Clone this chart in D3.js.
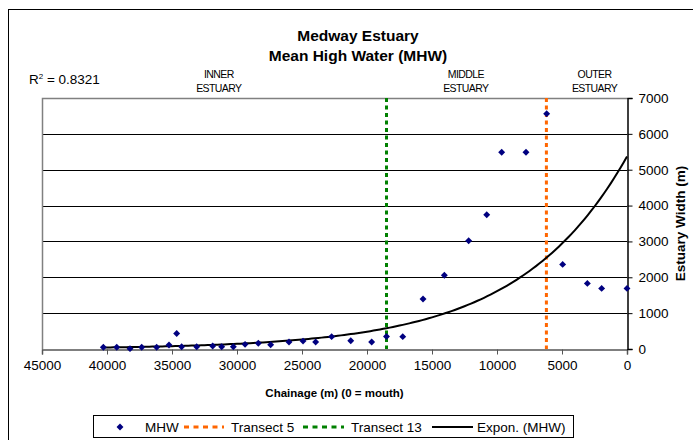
<!DOCTYPE html>
<html>
<head>
<meta charset="utf-8">
<script src="https://cdn.jsdelivr.net/npm/d3@7"></script>
<style>
  body { margin: 0; background: #fff; }
  svg { display: block; font-family: "Liberation Sans", Arial, sans-serif; }
</style>
</head>
<body>
<svg id="chart" width="693" height="440"></svg>
<script>
// Mean High Water width along the Medway, chainage measured from the mouth (m)
const chainage = [40280, 39250, 38230, 37330, 36180, 35230, 34640, 34260, 33100, 31870,
                  31180, 30280, 29380, 28360, 27410, 26000, 24920, 23950, 22720, 21250,
                  19640, 18500, 17250, 15690, 14050, 12180, 10790, 9640, 7770, 6180,
                  4950, 3050, 1950, 0];
const mhw = [50, 50, 10, 50, 50, 110, 430, 65, 65, 85,
             65, 65, 130, 160, 120, 195, 220, 195, 345, 230,
             195, 350, 345, 1395, 2055, 3020, 3745, 5485, 5485, 6560,
             2360, 1830, 1690, 1690];

// Transect positions (chainage, m)
const transectNames = ["Transect 5", "Transect 13"];
const transectChainage = [6200, 18500];

// Exponential trendline of MHW: width = A * exp(B * chainage)
const trendA = 5370;
const trendB = -1.204e-4;
const rSquared = "0.8321";

const xTicks = [45000, 40000, 35000, 30000, 25000, 20000, 15000, 10000, 5000, 0];
const yTicks = [0, 1000, 2000, 3000, 4000, 5000, 6000, 7000];
const zoneNames = [["INNER", "ESTUARY"], ["MIDDLE", "ESTUARY"], ["OUTER", "ESTUARY"]];

const svg = d3.select("#chart");
const plot = { left: 42, right: 627, top: 98, bottom: 349 };

const x = d3.scaleLinear().domain([45000, 0]).range([plot.left, plot.right]);
const y = d3.scaleLinear().domain([0, 7000]).range([plot.bottom, plot.top]);

// chart frame (runs past the page edge)
svg.append("rect")
  .attr("x", 8.5).attr("y", 9.5).attr("width", 760).attr("height", 480)
  .attr("fill", "none").attr("stroke", "#000").attr("stroke-width", 1);

// titles
const title = svg.append("g").attr("font-weight", "bold").attr("font-size", 15.5)
  .attr("text-anchor", "middle").attr("fill", "#000");
title.append("text").attr("x", 358).attr("y", 41).text("Medway Estuary");
title.append("text").attr("x", 358).attr("y", 61).text("Mean High Water (MHW)");

// R² label
const r2 = svg.append("text").attr("x", 29).attr("y", 84).attr("font-size", 13.5).attr("fill", "#000");
r2.append("tspan").text("R");
r2.append("tspan").attr("dy", -5).attr("font-size", 8).text("2");
r2.append("tspan").attr("dy", 5).text(" = " + rSquared);

// estuary zone labels
const zoneAt = [31400, 12400, 2500];
zoneNames.forEach((lines, i) => {
  const t = svg.append("text").attr("font-size", 10.5).attr("letter-spacing", -0.6)
    .attr("text-anchor", "middle").attr("fill", "#000");
  lines.forEach((ln, j) => {
    t.append("tspan").attr("x", x(zoneAt[i])).attr("y", 78 + j * 14).text(ln);
  });
});

// gridlines
svg.append("g").selectAll("line")
  .data(yTicks.filter(v => v > 0 && v < 7000))
  .join("line")
  .attr("x1", plot.left).attr("x2", plot.right)
  .attr("y1", d => Math.round(y(d)) + 0.5).attr("y2", d => Math.round(y(d)) + 0.5)
  .attr("stroke", "#000").attr("stroke-width", 1);

// plot border (left and top)
svg.append("path")
  .attr("d", `M${plot.left + 0.5},${plot.bottom}V${plot.top + 0.5}H${plot.right}`)
  .attr("fill", "none").attr("stroke", "#808080").attr("stroke-width", 1.5);

// transect markers
const transectColor = ["#FF6600", "#008000"];
svg.append("g").selectAll("line")
  .data(transectChainage)
  .join("line")
  .attr("x1", d => x(d)).attr("x2", d => x(d))
  .attr("y1", plot.top).attr("y2", plot.bottom)
  .attr("stroke", (d, i) => transectColor[i])
  .attr("stroke-width", 3)
  .attr("stroke-dasharray", "4,3.5");

// x axis (bottom)
const xAxis = d3.axisBottom(x).tickValues(xTicks).tickSize(5).tickPadding(6)
  .tickFormat(d3.format("d"));
const gx = svg.append("g").attr("transform", `translate(0,${plot.bottom + 0.5})`).call(xAxis);
gx.select(".domain").attr("stroke", "#555").attr("stroke-width", 1.5);
gx.selectAll(".tick line").attr("stroke", "#555");
gx.selectAll("text").attr("font-size", 13.5).attr("fill", "#000")
  .attr("font-family", "\"Liberation Sans\", Arial, sans-serif");

// y axis (right)
const yAxis = d3.axisRight(y).tickValues(yTicks).tickSize(5).tickPadding(6)
  .tickFormat(d3.format("d"));
const gy = svg.append("g").attr("transform", `translate(${plot.right + 0.5},0)`).call(yAxis);
gy.select(".domain").attr("stroke", "#000").attr("stroke-width", 1.5);
gy.selectAll(".tick line").attr("stroke", "#000");
gy.selectAll("text").attr("font-size", 13.5).attr("fill", "#000")
  .attr("font-family", "\"Liberation Sans\", Arial, sans-serif");

// axis titles
svg.append("text").attr("x", (plot.left + plot.right) / 2).attr("y", 397)
  .attr("text-anchor", "middle").attr("font-weight", "bold").attr("font-size", 11.5)
  .text("Chainage (m) (0 = mouth)");
svg.append("text")
  .attr("transform", `translate(685,${(plot.top + plot.bottom) / 2}) rotate(-90)`)
  .attr("text-anchor", "middle").attr("font-weight", "bold").attr("font-size", 13.5)
  .text("Estuary Width (m)");

// exponential trendline over the data range
const trendX = d3.range(0, d3.max(chainage), 250).concat([d3.max(chainage)]);
svg.append("path")
  .datum(trendX)
  .attr("d", d3.line().x(d => x(d)).y(d => y(trendA * Math.exp(trendB * d))))
  .attr("fill", "none").attr("stroke", "#000").attr("stroke-width", 2);

// MHW points (diamonds)
const diamond = d3.symbol().type(d3.symbolDiamond2).size(34);
svg.append("g").selectAll("path")
  .data(chainage.map((c, i) => [c, mhw[i]]))
  .join("path")
  .attr("transform", d => `translate(${x(d[0])},${y(d[1])}) rotate(45)`)
  .attr("d", d3.symbol().type(d3.symbolSquare).size(24))
  .attr("fill", "#000080");

// legend
const lg = svg.append("g");
lg.append("rect").attr("x", 93.5).attr("y", 415.5).attr("width", 480).attr("height", 22)
  .attr("fill", "#fff").attr("stroke", "#000").attr("stroke-width", 1);
const ly = 427;
lg.append("path")
  .attr("transform", `translate(120,${ly}) rotate(45)`)
  .attr("d", d3.symbol().type(d3.symbolSquare).size(24))
  .attr("fill", "#000080");
const legendText = (tx, s) => lg.append("text").attr("x", tx).attr("y", ly + 5)
  .attr("font-size", 13.5).attr("fill", "#000").text(s);
legendText(145, "MHW");
lg.append("line").attr("x1", 184).attr("x2", 224).attr("y1", ly).attr("y2", ly)
  .attr("stroke", transectColor[0]).attr("stroke-width", 3).attr("stroke-dasharray", "5,4.5");
legendText(231, transectNames[0]);
lg.append("line").attr("x1", 303).attr("x2", 344).attr("y1", ly).attr("y2", ly)
  .attr("stroke", transectColor[1]).attr("stroke-width", 3).attr("stroke-dasharray", "5,4.5");
legendText(351, transectNames[1]);
lg.append("line").attr("x1", 432).attr("x2", 473).attr("y1", ly).attr("y2", ly)
  .attr("stroke", "#000").attr("stroke-width", 2);
legendText(477, "Expon. (MHW)");
</script>
</body>
</html>
